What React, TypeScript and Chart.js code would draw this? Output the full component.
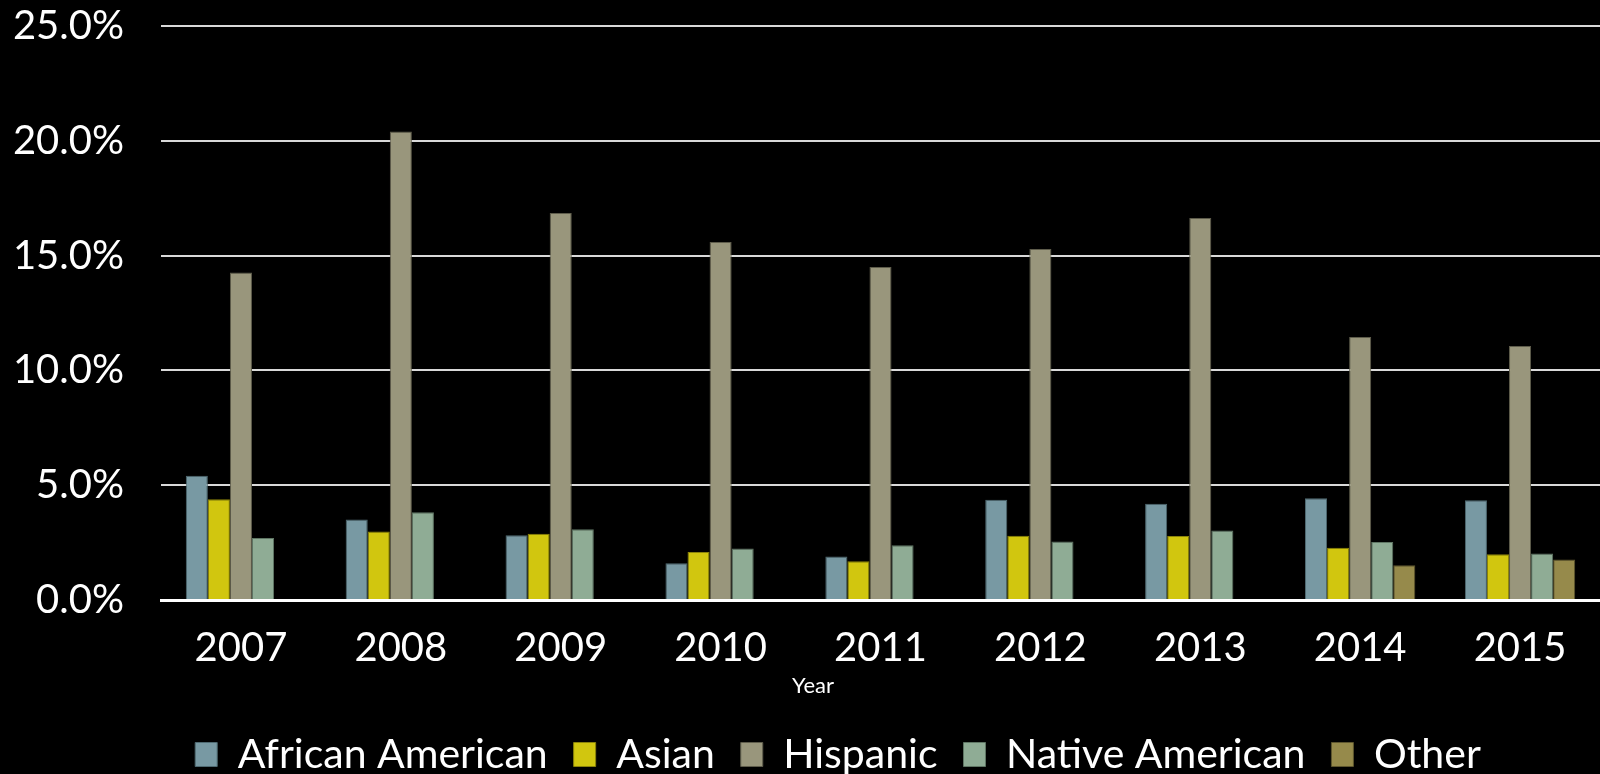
import React, { useEffect, useRef } from "react";
import { Chart, registerables } from "chart.js";

Chart.register(...registerables);

const years = ["2007", "2008", "2009", "2010", "2011", "2012", "2013", "2014", "2015"];
const africanAmerican = [5.41, 3.51, 2.82, 1.6, 1.9, 4.37, 4.19, 4.43, 4.34];
const asian = [4.39, 2.98, 2.89, 2.09, 1.69, 2.8, 2.79, 2.28, 1.99];
const hispanic = [14.26, 20.41, 16.86, 15.59, 14.5, 15.29, 16.64, 11.45, 11.06];
const nativeAmerican = [2.7, 3.82, 3.08, 2.24, 2.38, 2.55, 3.03, 2.53, 2.02];
const other = [null, null, null, null, null, null, null, 1.51, 1.76];
const seriesNames = ["African American", "Asian", "Hispanic", "Native American", "Other"];
const axisTitle = "Year";

const FONT = "Lato, 'Open Sans', sans-serif";

export default function App() {
  const ref = useRef<HTMLCanvasElement | null>(null);

  useEffect(() => {
    document.body.style.margin = "0";
    document.body.style.background = "#000";
    const canvas = ref.current;
    if (!canvas) return;

    const yearTitlePlugin = {
      id: "yearTitle",
      afterDraw(chart: any) {
        const ctx = chart.ctx;
        ctx.save();
        ctx.fillStyle = "#ffffff";
        ctx.font = `22px ${FONT}`;
        ctx.textAlign = "center";
        ctx.textBaseline = "middle";
        ctx.fillText(axisTitle, chart.width / 2 + 13, chart.chartArea.bottom + 86);
        ctx.restore();
      },
    };

    const legendShift = {
      id: "legendShift",
      afterLayout(chart: any) {
        const lg = chart.legend;
        if (!lg) return;
        lg.top += 11;
        lg.bottom += 11;
        lg.left += 38;
        lg.right += 38;
      },
    };

    const bg = {
      id: "bg",
      beforeDraw(chart: any) {
        const ctx = chart.ctx;
        ctx.save();
        ctx.fillStyle = "#000";
        ctx.fillRect(0, 0, chart.width, chart.height);
        ctx.restore();
      },
    };

    const fills = ["#7899A3", "#D1C60F", "#99967C", "#8FAC95", "#968A4B"];
    const borders = ["#4F6A72", "#8C840A", "#5E5C4B", "#5F7664", "#5E562E"];
    const values = [africanAmerican, asian, hispanic, nativeAmerican, other];

    const chart = new Chart(canvas, {
      type: "bar",
      data: {
        labels: years,
        datasets: seriesNames.map((name, i) => ({
          label: name,
          data: values[i] as any,
          backgroundColor: fills[i],
          borderColor: borders[i],
          borderWidth: 1,
          categoryPercentage: 0.69,
          barPercentage: 1,
        })),
      },
      options: {
        animation: false,
        responsive: false,
        maintainAspectRatio: false,
        layout: { padding: { left: 0, right: 0, top: 26, bottom: 0 } },
        plugins: {
          legend: {
            position: "bottom",
            labels: {
              color: "#ffffff",
              font: { family: FONT, size: 41 },
              boxWidth: 22,
              boxHeight: 24,
              padding: 26,
            },
          },
          tooltip: { enabled: false },
        },
        scales: {
          x: {
            grid: { display: false, drawTicks: false },
            border: { display: true, color: "#ffffff", width: 3 },
            ticks: {
              color: "#ffffff",
              font: { family: FONT, size: 40 },
              padding: 24,
            },
            title: { display: false },
            afterFit(scale: any) {
              scale.height = scale.height + 1;
            },
          },
          y: {
            min: 0,
            max: 25,
            grid: {
              color: "#d9d9d9",
              lineWidth: 2,
              drawTicks: true,
              tickLength: 35,
              tickColor: "rgba(0,0,0,0)",
            },
            border: { display: false },
            ticks: {
              stepSize: 5,
              color: "#ffffff",
              font: { family: FONT, size: 40 },
              padding: 2,
              callback: (v: any) => Number(v).toFixed(1) + "%",
            },
            afterFit(scale: any) {
              scale.width = 161;
            },
          },
        },
      },
      plugins: [bg, yearTitlePlugin, legendShift],
    });

    return () => chart.destroy();
  }, []);

  return (
    <div style={{ width: 1600, height: 774, background: "#000" }}>
      <canvas ref={ref} width={1600} height={774} style={{ display: "block" }} />
    </div>
  );
}
